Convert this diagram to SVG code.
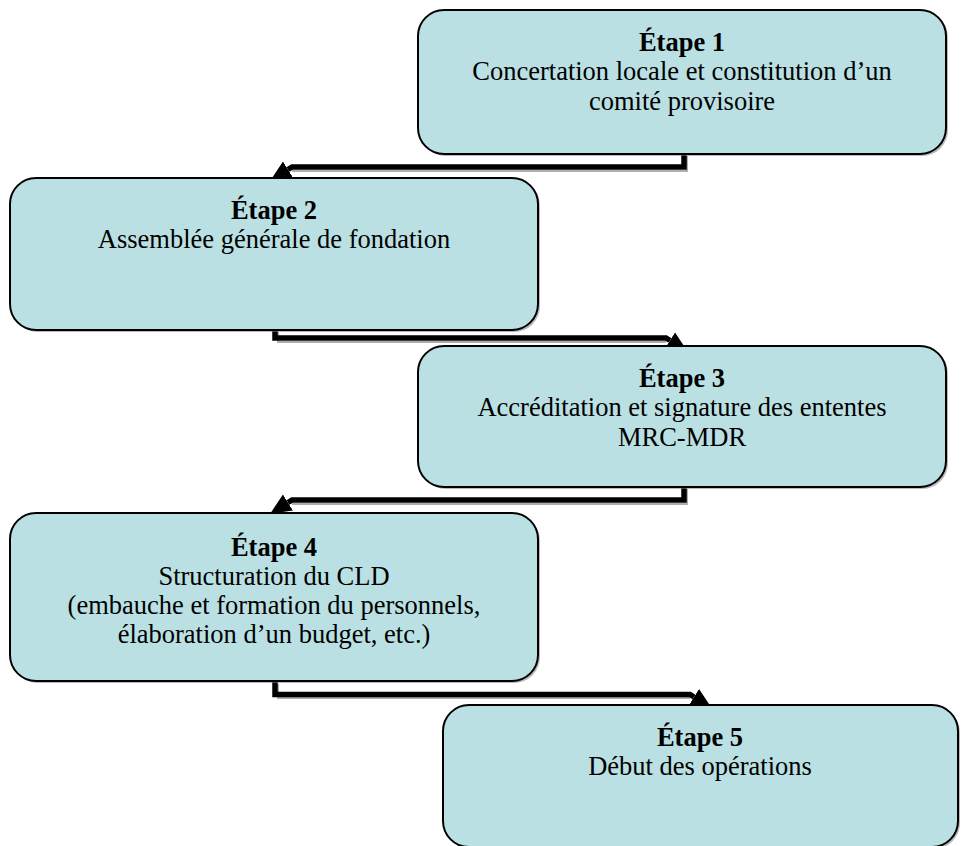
<svg xmlns="http://www.w3.org/2000/svg" width="961" height="846" viewBox="0 0 961 846">
  <style>
    .box { fill: #BAE0E3; stroke: #000; stroke-width: 2; }
    .shadow { fill: #7f7f7f; opacity: 0.55; }
    .t { font-family: "Liberation Serif", "Times New Roman", serif; font-size: 26.5px; fill: #000; text-anchor: middle; }
    .b { font-weight: bold; }
    .conn { fill: none; stroke: #000; stroke-width: 5.5; stroke-linejoin: miter; }
    .connsh { fill: none; stroke: #8a8a8a; stroke-width: 2; opacity: 0.7; }
  </style>
  <defs>
    <marker id="arrow" markerUnits="userSpaceOnUse" viewBox="0 -10 21 20" refX="0" refY="0" markerWidth="21" markerHeight="20" orient="auto">
      <path d="M0,-9.5 L21,0 L0,9.5 Z" fill="#000"/>
    </marker>
  </defs>

  <g id="connectors">
    <path class="connsh" d="M687,156 V171 H292"/>
    <path class="conn" d="M684,154 V167 H292 L288,169.5" marker-end="url(#arrow)"/>
    <path class="connsh" d="M278,332 V342 H666"/>
    <path class="conn" d="M275,330 V338 H666 L670,340.5" marker-end="url(#arrow)"/>
    <path class="connsh" d="M687,489 V504 H292"/>
    <path class="conn" d="M684,487 V500 H292 L288,502.5" marker-end="url(#arrow)"/>
    <path class="connsh" d="M278,684 V698 H690"/>
    <path class="conn" d="M275,682 V694.5 H690 L694,697" marker-end="url(#arrow)"/>
  </g>

  <g id="etape1">
    <rect class="shadow" x="420" y="12" width="528" height="144" rx="26"/>
    <rect class="box" x="418" y="10" width="528" height="144" rx="26"/>
    <text class="t b" x="682" y="51">Étape 1</text>
    <text class="t" x="682" y="80">Concertation locale et constitution d’un</text>
    <text class="t" x="682" y="110">comité provisoire</text>
  </g>

  <g id="etape2">
    <rect class="shadow" x="12" y="180" width="528" height="152" rx="26"/>
    <rect class="box" x="10" y="178" width="528" height="152" rx="26"/>
    <text class="t b" x="274" y="219">Étape 2</text>
    <text class="t" x="274" y="248">Assemblée générale de fondation</text>
  </g>

  <g id="etape3">
    <rect class="shadow" x="420" y="348" width="528" height="141" rx="26"/>
    <rect class="box" x="418" y="346" width="528" height="141" rx="26"/>
    <text class="t b" x="682" y="387">Étape 3</text>
    <text class="t" x="682" y="416">Accréditation et signature des ententes</text>
    <text class="t" x="682" y="446">MRC-MDR</text>
  </g>

  <g id="etape4">
    <rect class="shadow" x="12" y="515" width="528" height="168" rx="26"/>
    <rect class="box" x="10" y="513" width="528" height="168" rx="26"/>
    <text class="t b" x="274" y="556">Étape 4</text>
    <text class="t" x="274" y="585">Structuration du CLD</text>
    <text class="t" x="274" y="614">(embauche et formation du personnels,</text>
    <text class="t" x="274" y="643">élaboration d’un budget, etc.)</text>
  </g>

  <g id="etape5">
    <rect class="shadow" x="445" y="707" width="515" height="142" rx="26"/>
    <rect class="box" x="443" y="705" width="515" height="142" rx="26"/>
    <text class="t b" x="700" y="746">Étape 5</text>
    <text class="t" x="700" y="775">Début des opérations</text>
  </g>
</svg>
